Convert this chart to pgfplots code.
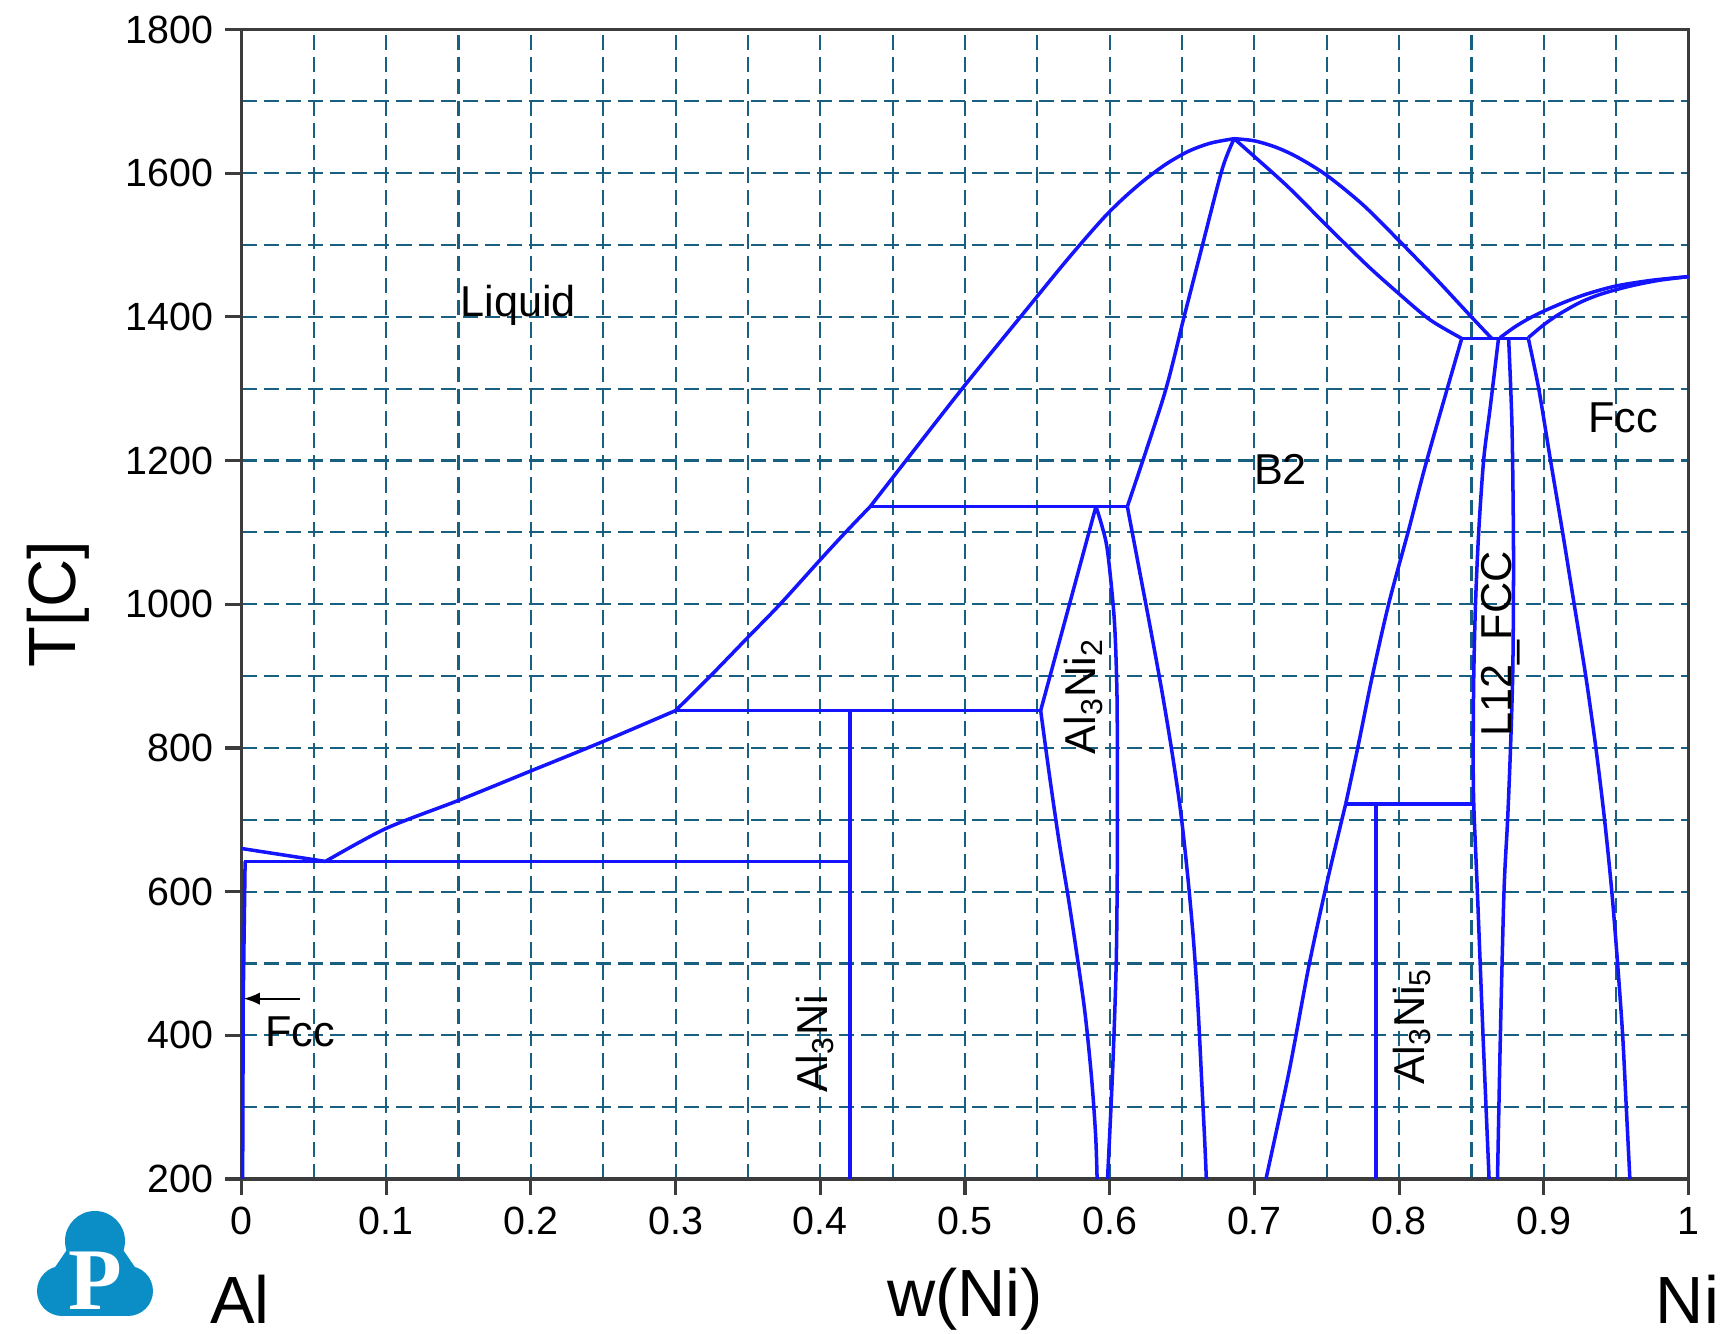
\documentclass[border=0pt]{standalone}
\usepackage{fontspec}
\setmainfont{Liberation Sans}
\newfontfamily\serifP{Liberation Serif}
\usepackage{pgfplots}
\pgfplotsset{compat=1.18}
\definecolor{gridc}{RGB}{25,95,130}
\definecolor{axc}{RGB}{60,60,60}
\definecolor{pb}{RGB}{20,20,255}
\definecolor{logoc}{RGB}{11,142,198}
\tikzset{
 phase/.style={pb, line width=1.0pt, line join=round},
 sphase/.style={pb, line width=1.0pt, line join=round, smooth, tension=0.5},
 lab/.style={font=\fontsize{12.3}{14}\selectfont, inner sep=0pt},
}
\begin{document}
\begin{tikzpicture}
\useasboundingbox (-2.415,-1.55) rectangle (14.805,11.79);
\begin{axis}[
 at={(0,0)}, anchor=south west,
 scale only axis, width=14.47cm, height=11.495cm,
 xmin=0, xmax=1, ymin=200, ymax=1800,
 xtick distance=0.1, ytick distance=200,
 minor x tick num=1, minor y tick num=1,
 grid=both,
 major grid style={gridc, dash pattern=on 4.3pt off 2pt, line width=0.6pt},
 minor grid style={gridc, dash pattern=on 4.3pt off 2pt, line width=0.6pt},
 tick pos=left, tick align=outside,
 major tick length=0.16cm, minor tick length=0pt,
 axis line style={axc, line width=0.9pt},
 every tick/.style={axc, line width=0.9pt},
 ticklabel style={font=\fontsize{11.2}{13}\selectfont},
 /pgf/number format/assume math mode=true,
 /pgf/number format/1000 sep={},
 clip=false,
]
% Al side
\addplot[phase] coordinates {(0,660) (0.058,642)};
\addplot[phase] coordinates {(0.002,642) (0.4205,642)};
\addplot[phase] coordinates {(0.0025,642) (0.0012,450) (0.0008,200)};
% liquidus
\addplot[sphase] coordinates {(0.058,642) (0.1,688) (0.15,727) (0.2,768) (0.25,809) (0.30,852)};
\addplot[sphase] coordinates {(0.30,852) (0.324,900) (0.35,954) (0.3722,1000) (0.40,1062) (0.4174,1100) (0.4345,1136)};
\addplot[sphase] coordinates {(0.4345,1136) (0.46,1202) (0.50,1305) (0.54,1404) (0.57,1478) (0.595,1536) (0.61,1566) (0.625,1592) (0.64,1614) (0.655,1631) (0.67,1642) (0.686,1648)};
\addplot[sphase] coordinates {(0.686,1648) (0.70,1645) (0.715,1636) (0.73,1622) (0.75,1597) (0.775,1556) (0.80,1506) (0.825,1454) (0.849,1402) (0.864,1370)};
% B2
\addplot[sphase] coordinates {(0.686,1648) (0.695,1632) (0.7227,1582) (0.75,1527) (0.7778,1472) (0.80,1432) (0.8213,1396) (0.8433,1370)};
\addplot[sphase] coordinates {(0.686,1648) (0.6778,1606) (0.664,1499) (0.6514,1400) (0.6376,1291) (0.6122,1136)};
\addplot[sphase] coordinates {(0.6122,1136) (0.620,1053) (0.628,968) (0.636,880) (0.643,795) (0.649,712) (0.654,620) (0.658,530) (0.661,440) (0.6635,340) (0.6655,260) (0.6668,200)};
% Al3Ni
\addplot[phase] coordinates {(0.30,852) (0.5523,852)};
\addplot[phase] coordinates {(0.4205,200) (0.4205,852)};
% Al3Ni2
\addplot[phase] coordinates {(0.4345,1136) (0.6122,1136)};
\addplot[phase] coordinates {(0.5905,1136) (0.5523,852)};
\addplot[sphase] coordinates {(0.5523,852) (0.5585,760) (0.565,670) (0.5715,590) (0.5775,510) (0.583,430) (0.5875,340) (0.5903,260) (0.5913,200)};
\addplot[sphase] coordinates {(0.5905,1136) (0.5945,1110) (0.5985,1074) (0.6031,981) (0.6049,888) (0.6053,796) (0.6053,650) (0.6045,500) (0.602,350) (0.5985,200)};
% Ni side
\addplot[phase] coordinates {(0.8433,1370) (0.8893,1370)};
\addplot[sphase] coordinates {(0.8433,1370) (0.8194,1202) (0.8068,1105) (0.793,1002) (0.7815,900) (0.7712,798) (0.7631,722)};
\addplot[sphase] coordinates {(0.7631,722) (0.751,620) (0.738,500) (0.724,350) (0.708,200)};
\addplot[phase] coordinates {(0.7631,722) (0.8516,722)};
\addplot[phase] coordinates {(0.784,200) (0.784,722)};
\addplot[sphase] coordinates {(0.8687,1370) (0.8631,1276) (0.8585,1202) (0.855,1100) (0.8528,1000) (0.8516,900) (0.8512,797) (0.8516,722) (0.8541,600) (0.858,400) (0.8622,200)};
\addplot[sphase] coordinates {(0.8757,1370) (0.878,1250) (0.879,1100) (0.879,1000) (0.8785,900) (0.877,800) (0.875,700) (0.8725,600) (0.870,400) (0.868,200)};
\addplot[sphase] coordinates {(0.8893,1370) (0.8965,1300) (0.9045,1202) (0.913,1100) (0.921,1000) (0.929,900) (0.936,800) (0.942,700) (0.947,600) (0.951,500) (0.9545,400) (0.957,300) (0.9595,200)};
\addplot[sphase] coordinates {(0.8697,1371) (0.88,1386) (0.89,1398) (0.90,1408) (0.915,1421) (0.93,1432) (0.95,1443) (0.975,1451) (1,1456)};
\addplot[sphase] coordinates {(0.8893,1371) (0.90,1389) (0.91,1403) (0.925,1420) (0.94,1432) (0.96,1443) (0.98,1451) (1,1456)};
% labels
\node[lab] at (axis cs:0.1913,1416) {Liquid};
\node[lab] at (axis cs:0.718,1187) {B2};
\node[lab] at (axis cs:0.955,1259) {Fcc};
\node[lab, rotate=90] at (axis cs:0.582,872) {Al\textsubscript{3}Ni\textsubscript{2}};
\node[lab, rotate=90] at (axis cs:0.3963,388) {Al\textsubscript{3}Ni};
\node[lab, rotate=90] at (axis cs:0.8088,413) {Al\textsubscript{3}Ni\textsubscript{5}};
\node[lab, rotate=90] at (axis cs:0.8704,945) {L12\_FCC};
\node[lab, anchor=west] at (axis cs:0.016,405) {Fcc};
\draw[-latex, black, line width=0.6pt] (axis cs:0.0404,451) -- (axis cs:0.0015,451);
\end{axis}
% outer labels
\node[rotate=90, font=\fontsize{19}{22}\selectfont] at (-1.835,5.7475) {T[C]};
\node[font=\fontsize{19}{22}\selectfont] at (7.235,-1.2) {w(Ni)};
\node[font=\fontsize{19}{22}\selectfont] at (-0.015,-1.2) {Al};
\node[font=\fontsize{19}{22}\selectfont] at (14.46,-1.2) {Ni};
% logo
\fill[logoc] (-1.465,-0.62) circle (0.30);
\fill[logoc] (-1.795,-1.12) circle (0.25);
\fill[logoc] (-1.135,-1.12) circle (0.25);
\fill[logoc] (-1.74,-0.70) -- (-1.19,-0.70) -- (-0.93,-1.08) -- (-1.135,-1.37) -- (-1.795,-1.37) -- (-2.0,-1.08) -- cycle;
\node[white, font=\serifP\bfseries\fontsize{25}{28}\selectfont] at (-1.465,-1.02) {P};
\end{tikzpicture}
\end{document}
